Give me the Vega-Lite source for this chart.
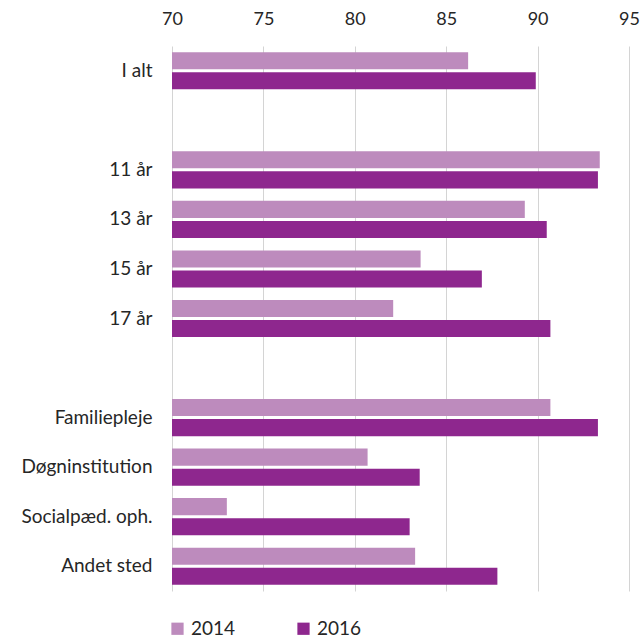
{
  "$schema": "https://vega.github.io/schema/vega-lite/v6.json",
  "width": 457,
  "height": 545,
  "autosize": {"type": "none"},
  "padding": {"left": 172, "top": 46, "right": 15, "bottom": 50},
  "background": "white",
  "config": {
    "view": {"stroke": null},
    "font": "Lato",
    "axis": {"labelFont": "Lato", "labelColor": "#262626", "labelFontSize": 18}
  },
  "data": {
    "values": [
      {"group": "I alt", "year": "2014", "value": 86.2},
      {"group": "I alt", "year": "2016", "value": 89.9},
      {"group": "11 år", "year": "2014", "value": 93.4},
      {"group": "11 år", "year": "2016", "value": 93.3},
      {"group": "13 år", "year": "2014", "value": 89.3},
      {"group": "13 år", "year": "2016", "value": 90.5},
      {"group": "15 år", "year": "2014", "value": 83.6},
      {"group": "15 år", "year": "2016", "value": 86.95},
      {"group": "17 år", "year": "2014", "value": 82.1},
      {"group": "17 år", "year": "2016", "value": 90.7},
      {"group": "Familiepleje", "year": "2014", "value": 90.7},
      {"group": "Familiepleje", "year": "2016", "value": 93.3},
      {"group": "Døgninstitution", "year": "2014", "value": 80.7},
      {"group": "Døgninstitution", "year": "2016", "value": 83.55},
      {"group": "Socialpæd. oph.", "year": "2014", "value": 73.0},
      {"group": "Socialpæd. oph.", "year": "2016", "value": 83.0},
      {"group": "Andet sted", "year": "2014", "value": 83.3},
      {"group": "Andet sted", "year": "2016", "value": 87.8}
    ]
  },
  "mark": {"type": "bar", "clip": true},
  "encoding": {
    "y": {
      "field": "group",
      "type": "nominal",
      "scale": {
        "domain": ["I alt", " ", "11 år", "13 år", "15 år", "17 år", "  ", "Familiepleje", "Døgninstitution", "Socialpæd. oph.", "Andet sted"],
        "paddingInner": 0.25,
        "paddingOuter": 0.125
      },
      "axis": {
        "title": null,
        "ticks": false,
        "domain": false,
        "labelPadding": 20,
        "labelFontSize": 19,
        "minExtent": 172,
        "maxExtent": 172
      }
    },
    "yOffset": {
      "field": "year",
      "type": "nominal",
      "scale": {"paddingInner": 0.15, "paddingOuter": 0}
    },
    "x": {
      "field": "value",
      "type": "quantitative",
      "scale": {"domain": [70, 95], "nice": false, "zero": false},
      "axis": {
        "orient": "top",
        "title": null,
        "values": [70, 75, 80, 85, 90, 95],
        "ticks": false,
        "domain": false,
        "grid": true,
        "gridColor": "#d4d4d4",
        "gridWidth": 1,
        "labelPadding": 18,
        "labelFlush": false
      }
    },
    "color": {
      "field": "year",
      "type": "nominal",
      "scale": {"domain": ["2014", "2016"], "range": ["#bd8bbd", "#8e278e"]},
      "legend": {
        "title": null,
        "orient": "none",
        "direction": "horizontal",
        "legendX": -4,
        "legendY": 573,
        "symbolType": "square",
        "symbolSize": 150,
        "symbolStrokeWidth": 0,
        "labelFont": "Lato",
        "labelFontSize": 19,
        "labelColor": "#262626",
        "columnPadding": 58,
        "labelOffset": 4
      }
    }
  }
}
